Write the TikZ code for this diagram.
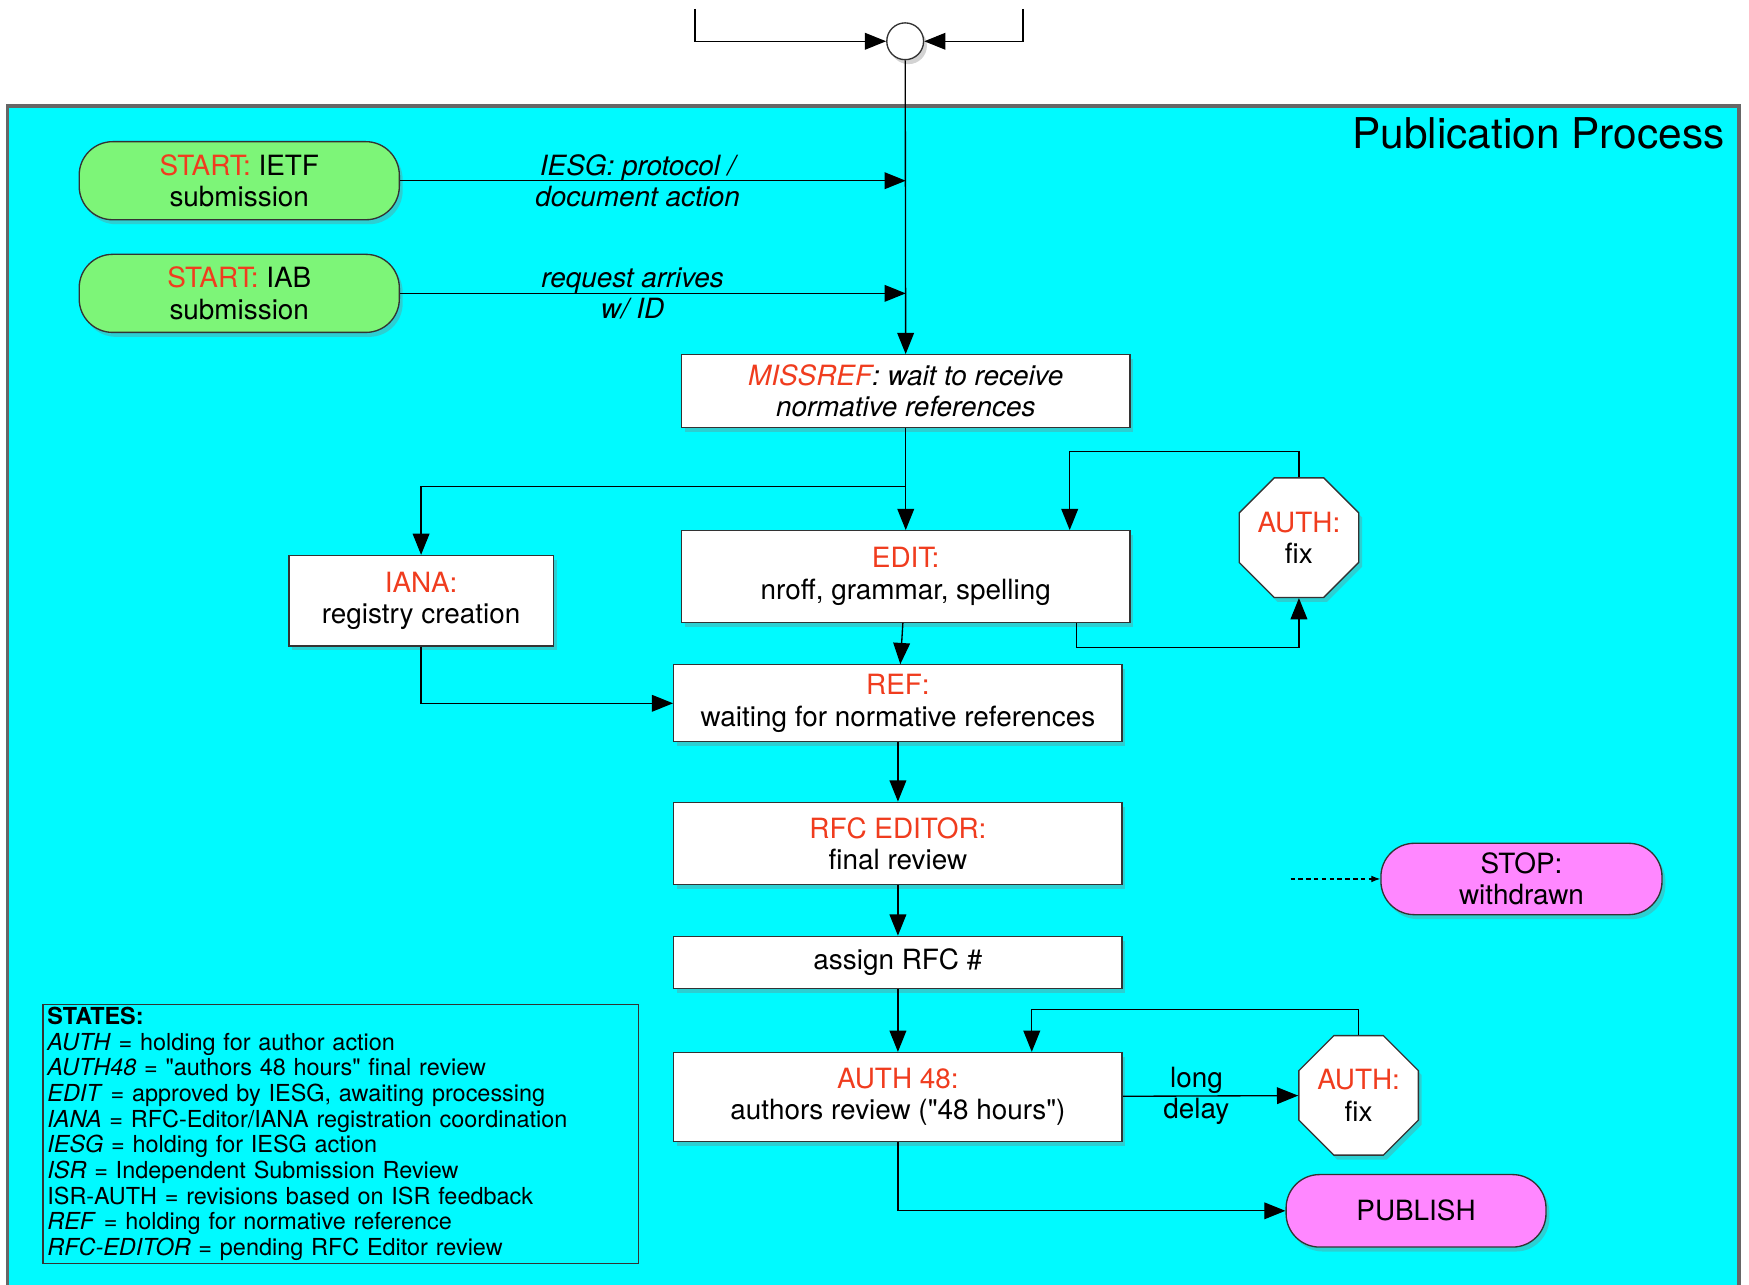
\documentclass[tikz,border=0pt]{standalone}
\usepackage{fontspec}
\setmainfont{TeX Gyre Heros}
\usepackage{xcolor}
\usepackage{tikz}
\usetikzlibrary{arrows.meta, positioning, shapes.geometric, shadows}

\definecolor{procbg}{RGB}{0,250,255}
\definecolor{startgreen}{RGB}{125,245,120}
\definecolor{endpink}{RGB}{255,135,255}
\definecolor{tagred}{RGB}{240,60,30}
\newcommand{\redtag}[1]{\textcolor{tagred}{#1}}

\begin{document}
\begin{tikzpicture}[
  x=0.5pt, y=-0.5pt,
  shade/.style={drop shadow={shadow xshift=1.5pt, shadow yshift=-2pt, opacity=0.35}},
  block/.style={draw=black!80, fill=white, rectangle, line width=0.6pt, shade, align=center,
    minimum width=201pt, font=\fontsize{12.5}{14}\selectfont},
  pill/.style={draw=black!80, rectangle, rounded corners=15pt, line width=0.6pt, shade, align=center,
    font=\fontsize{12.5}{14}\selectfont},
  octa/.style={draw=black!80, fill=white, regular polygon, regular polygon sides=8, inner sep=0pt,
    minimum size=58pt, line width=0.6pt, shade, align=center, font=\fontsize{12.5}{14}\selectfont},
  arr/.style={-{Triangle[length=9.5pt, width=7.5pt]}, line width=0.6pt},
  lbl/.style={align=center, font=\fontsize{12.5}{14}\selectfont}
]
\clip (0,0) rectangle (1568,1152);
% process area
\draw[fill=procbg, draw=black!60, line width=1.5pt] (7,95) rectangle (1559,1170);
\node[anchor=base east, font=\fontsize{19}{22}\selectfont] (title) at (1553,133) {Publication Process};

% entry
\node[draw=black!80, fill=white, circle, minimum size=16.5pt, inner sep=0pt, line width=0.6pt, shade] (merge) at (811.5,37) {};
\coordinate (inl) at (623,8);
\coordinate (inr) at (917,8);

\node[pill, fill=startgreen, minimum width=143.5pt, minimum height=35pt] (ietf) at (214.5,162) {\redtag{START:} IETF\\submission};
\node[pill, fill=startgreen, minimum width=143.5pt, minimum height=35pt] (iab) at (214.5,263) {\redtag{START:} IAB\\submission};

% main column
\node[block, minimum height=32.5pt, font=\fontsize{12.5}{14}\selectfont\itshape] (missref) at (812,350.5) {\redtag{MISSREF}: wait to receive\\normative references};
\node[block, minimum height=41pt, below=45.8pt of missref] (edit) {\redtag{EDIT:}\\nroff, grammar, spelling};
\node[block, minimum height=34.5pt, below=18.5pt of edit, xshift=-3.5pt] (ref) {\redtag{REF:}\\waiting for normative references};
\node[block, minimum height=37pt, below=26.5pt of ref] (rfced) {\redtag{RFC EDITOR:}\\final review};
\node[block, minimum height=23.5pt, below=22.5pt of rfced] (assign) {assign RFC \#};
\node[block, minimum height=40pt, below=28pt of assign] (auth48) {\redtag{AUTH 48:}\\authors review (\textquotedbl 48 hours\textquotedbl)};

\node[block, minimum width=118.5pt, minimum height=40.5pt] (iana) at (377.5,538.5) {\redtag{IANA:}\\registry creation};
\node[octa] (fix1) at (1164.5,482) {\redtag{AUTH:}\\fix};
\node[octa] (fix2) at (1218,982) {\redtag{AUTH:}\\fix};

\node[pill, fill=endpink, minimum width=126pt, minimum height=32pt] (stop) at (1364,788) {STOP:\\withdrawn};
\node[pill, fill=endpink, minimum width=116.5pt, minimum height=32.5pt] (publish) at (1269.5,1085.5) {PUBLISH};
\coordinate (wd) at (1157,788);

% legend
\node[draw=black!80, line width=0.5pt, anchor=north west, align=left, text width=263pt,
  inner xsep=2pt, inner ysep=1.2pt, font=\fontsize{10.5}{11.5}\selectfont] (states) at (38,900) {%
  \textbf{STATES:}\\
  \textit{AUTH} = holding for author action\\
  \textit{AUTH48} = \textquotedbl authors 48 hours\textquotedbl{} final review\\
  \textit{EDIT} = approved by IESG, awaiting processing\\
  \textit{IANA} = RFC-Editor/IANA registration coordination\\
  \textit{IESG} = holding for IESG action\\
  \textit{ISR} = Independent Submission Review\\
  ISR-AUTH = revisions based on ISR feedback\\
  \textit{REF} = holding for normative reference\\
  \textit{RFC-EDITOR} = pending RFC Editor review};

% connectors
\draw[arr] (inl) |- (merge);
\draw[arr] (inr) |- (merge);
\draw[arr] (merge) -- (missref);
\draw[arr] (ietf) -- node[lbl, pos=0.47, font=\fontsize{12.5}{14}\selectfont\itshape] {IESG: protocol /\\document action} (ietf -| missref);
\draw[arr] (iab) -- node[lbl, pos=0.46, font=\fontsize{12.5}{14}\selectfont\itshape] {request arrives\\w/ ID} (iab -| missref);
\draw[arr] (missref) -- (edit);
\coordinate (split) at (811.5,436);
\draw[arr] (split) -| (iana);
\draw[arr] (fix1.north) -- ++(0,-23) -| ([xshift=73.5pt]edit.north);
\draw[arr] ([xshift=76.5pt]edit.south) -- ++(0,22) -| (fix1.south);
\draw[arr] (edit) -- (ref);
\draw[arr] (iana) |- (ref);
\draw[arr] (ref) -- (rfced);
\draw[arr] (rfced) -- (assign);
\draw[arr] (assign) -- (auth48);
\draw[arr] (auth48) -- node[lbl, pos=0.42] {long\\delay} (fix2);
\draw[arr] (fix2.north) -- ++(0,-23) -| ([xshift=60pt]auth48.north);
\draw[arr] (auth48) |- (publish);
\draw[dash pattern=on 2pt off 1.5pt, line width=0.5pt, -{Latex[length=4pt, width=3pt]}] (wd) -- (stop);
\end{tikzpicture}
\end{document}
